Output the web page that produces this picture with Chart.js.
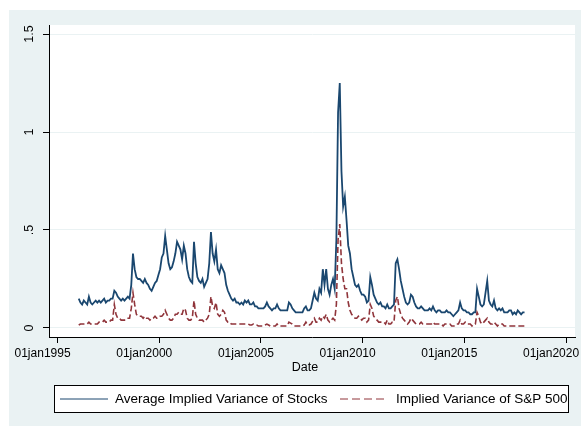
<!DOCTYPE html>
<html lang="en">
<head>
  <meta charset="UTF-8">
  <title>Implied Variance</title>
  <script src="https://cdn.jsdelivr.net/npm/chart.js"></script>
  <style>
    html, body {
      margin: 0;
      padding: 0;
      background: #fff;
    }
    canvas {
      display: block;
    }
  </style>
</head>
<body>
  <canvas id="chart" width="581" height="426"></canvas>

  <script>
    // monthly values, first point = Jan 1996
    const startYear = 1996;

    const stocks = [
      0.15, 0.13, 0.12, 0.14, 0.13, 0.12, 0.16, 0.13, 0.12, 0.13, 0.14, 0.13, // 1996
      0.14, 0.13, 0.14, 0.15, 0.13, 0.14, 0.14, 0.15, 0.15, 0.19, 0.18, 0.16, // 1997
      0.15, 0.14, 0.15, 0.14, 0.15, 0.16, 0.15, 0.22, 0.38, 0.30, 0.26, 0.25, // 1998
      0.25, 0.24, 0.23, 0.25, 0.23, 0.22, 0.20, 0.19, 0.21, 0.23, 0.24, 0.27, // 1999
      0.30, 0.36, 0.38, 0.47, 0.40, 0.33, 0.30, 0.31, 0.34, 0.38, 0.44, 0.42, // 2000
      0.40, 0.35, 0.42, 0.38, 0.30, 0.26, 0.24, 0.23, 0.44, 0.33, 0.26, 0.24, // 2001
      0.23, 0.25, 0.21, 0.23, 0.25, 0.33, 0.49, 0.38, 0.34, 0.40, 0.30, 0.28, // 2002
      0.32, 0.30, 0.28, 0.22, 0.19, 0.17, 0.15, 0.14, 0.15, 0.13, 0.13, 0.12, // 2003
      0.13, 0.12, 0.14, 0.13, 0.14, 0.12, 0.12, 0.13, 0.11, 0.11, 0.10, 0.10, // 2004
      0.10, 0.10, 0.11, 0.13, 0.11, 0.10, 0.09, 0.10, 0.10, 0.12, 0.10, 0.09, // 2005
      0.09, 0.09, 0.09, 0.09, 0.13, 0.12, 0.10, 0.09, 0.08, 0.08, 0.08, 0.08, // 2006
      0.08, 0.10, 0.11, 0.09, 0.09, 0.10, 0.14, 0.18, 0.15, 0.14, 0.20, 0.18, // 2007
      0.30, 0.22, 0.30, 0.20, 0.17, 0.22, 0.25, 0.20, 0.45, 1.10, 1.25, 0.80, // 2008
      0.62, 0.67, 0.55, 0.42, 0.38, 0.30, 0.26, 0.22, 0.21, 0.22, 0.19, 0.17, // 2009
      0.17, 0.16, 0.13, 0.14, 0.26, 0.22, 0.17, 0.15, 0.13, 0.12, 0.13, 0.11, // 2010
      0.11, 0.10, 0.12, 0.10, 0.10, 0.11, 0.12, 0.33, 0.35, 0.30, 0.24, 0.20, // 2011
      0.16, 0.13, 0.12, 0.13, 0.17, 0.16, 0.13, 0.11, 0.10, 0.10, 0.11, 0.10, // 2012
      0.09, 0.09, 0.09, 0.10, 0.09, 0.11, 0.09, 0.08, 0.09, 0.09, 0.08, 0.08, // 2013
      0.08, 0.09, 0.08, 0.08, 0.07, 0.06, 0.07, 0.08, 0.09, 0.13, 0.10, 0.09, // 2014
      0.09, 0.08, 0.08, 0.07, 0.07, 0.08, 0.08, 0.20, 0.16, 0.12, 0.11, 0.12, // 2015
      0.18, 0.24, 0.14, 0.12, 0.11, 0.14, 0.10, 0.09, 0.10, 0.09, 0.10, 0.08, // 2016
      0.08, 0.08, 0.09, 0.09, 0.07, 0.08, 0.07, 0.09, 0.08, 0.07, 0.08, 0.08  // 2017
    ];

    const sp500 = [
      0.015, 0.02, 0.02, 0.02, 0.02, 0.02, 0.03, 0.02, 0.02, 0.02, 0.02, 0.02, // 1996
      0.03, 0.03, 0.03, 0.04, 0.03, 0.03, 0.03, 0.04, 0.04, 0.12, 0.07, 0.05, // 1997
      0.05, 0.04, 0.04, 0.04, 0.05, 0.05, 0.05, 0.10, 0.18, 0.12, 0.07, 0.06, // 1998
      0.06, 0.06, 0.05, 0.06, 0.05, 0.05, 0.04, 0.05, 0.05, 0.06, 0.05, 0.05, // 1999
      0.06, 0.06, 0.07, 0.09, 0.07, 0.05, 0.04, 0.04, 0.05, 0.07, 0.07, 0.08, // 2000
      0.07, 0.07, 0.10, 0.09, 0.05, 0.04, 0.04, 0.05, 0.14, 0.07, 0.05, 0.04, // 2001
      0.04, 0.04, 0.03, 0.04, 0.05, 0.07, 0.16, 0.11, 0.10, 0.13, 0.07, 0.06, // 2002
      0.07, 0.09, 0.08, 0.04, 0.03, 0.03, 0.02, 0.02, 0.02, 0.02, 0.02, 0.02, // 2003
      0.02, 0.02, 0.02, 0.02, 0.02, 0.015, 0.015, 0.02, 0.015, 0.015, 0.01, 0.01, // 2004
      0.01, 0.01, 0.015, 0.02, 0.015, 0.01, 0.01, 0.01, 0.01, 0.02, 0.01, 0.01, // 2005
      0.01, 0.01, 0.01, 0.01, 0.03, 0.025, 0.02, 0.01, 0.01, 0.01, 0.01, 0.01, // 2006
      0.01, 0.015, 0.03, 0.015, 0.015, 0.02, 0.035, 0.05, 0.03, 0.03, 0.05, 0.04, // 2007
      0.06, 0.05, 0.07, 0.04, 0.03, 0.04, 0.05, 0.04, 0.12, 0.45, 0.53, 0.33, // 2008
      0.25, 0.20, 0.20, 0.13, 0.09, 0.07, 0.06, 0.05, 0.05, 0.06, 0.05, 0.04, // 2009
      0.05, 0.05, 0.03, 0.04, 0.12, 0.10, 0.06, 0.05, 0.04, 0.03, 0.03, 0.03, // 2010
      0.03, 0.02, 0.04, 0.02, 0.02, 0.03, 0.03, 0.14, 0.16, 0.10, 0.07, 0.05, // 2011
      0.04, 0.03, 0.02, 0.03, 0.05, 0.04, 0.03, 0.02, 0.02, 0.02, 0.03, 0.02, // 2012
      0.02, 0.02, 0.02, 0.02, 0.02, 0.03, 0.02, 0.02, 0.02, 0.02, 0.02, 0.01, // 2013
      0.02, 0.02, 0.02, 0.02, 0.01, 0.01, 0.01, 0.02, 0.02, 0.04, 0.02, 0.02, // 2014
      0.03, 0.02, 0.02, 0.02, 0.01, 0.02, 0.02, 0.08, 0.06, 0.03, 0.02, 0.03, // 2015
      0.04, 0.05, 0.03, 0.02, 0.02, 0.03, 0.02, 0.01, 0.02, 0.02, 0.02, 0.01, // 2016
      0.01, 0.01, 0.01, 0.01, 0.01, 0.01, 0.01, 0.01, 0.01, 0.01, 0.01, 0.01  // 2017
    ];

    const xTicks = [1995, 2000, 2005, 2010, 2015, 2020];
    const yTicks = [0, 0.5, 1, 1.5];
    const yTickLabels = ['0', '.5', '1', '1.5'];
    const seriesNames = ['Average Implied Variance of Stocks', 'Implied Variance of S&P 500'];
    const xTitle = 'Date';

    const navy = '#1a476f';
    const maroon = '#90353b';
    const bgColor = '#eaf2f3';
    const font = '"Liberation Sans", Arial, sans-serif';

    const toPoints = arr => arr.map((v, i) => ({ x: startYear + (i + 0.5) / 12, y: v }));

    // stata style background, rotated y labels, axis title and boxed legend
    const stataLook = {
      id: 'stataLook',
      beforeDraw(chart) {
        const { ctx, chartArea: a } = chart;
        ctx.save();
        ctx.fillStyle = '#fff';
        ctx.fillRect(0, 0, chart.width, chart.height);
        ctx.fillStyle = bgColor;
        ctx.fillRect(9, 10, chart.width - 9, chart.height - 10);
        ctx.fillStyle = '#fff';
        ctx.fillRect(a.left, a.top, a.right - a.left, a.bottom - a.top);
        ctx.restore();
      },
      afterDraw(chart) {
        const { ctx } = chart;
        const ys = chart.scales.y;
        ctx.save();
        ctx.fillStyle = '#000';
        ctx.font = '12.5px ' + font;
        ctx.textAlign = 'center';
        ctx.textBaseline = 'middle';
        yTicks.forEach((v, i) => {
          ctx.save();
          ctx.translate(30, ys.getPixelForValue(v));
          ctx.rotate(-Math.PI / 2);
          ctx.fillText(yTickLabels[i], 0, 0);
          ctx.restore();
        });

        ctx.fillText(xTitle, 305, 368);

        // legend box
        const lx = 54.5, ly = 385.5, lw = 514, lh = 27;
        ctx.fillStyle = '#fff';
        ctx.fillRect(lx, ly, lw, lh);
        ctx.strokeStyle = '#000';
        ctx.lineWidth = 1;
        ctx.strokeRect(lx, ly, lw, lh);
        const my = ly + lh / 2;
        const slots = [[60, 115], [340, 396]];
        ctx.font = '13.5px ' + font;
        chart.data.datasets.forEach((ds, i) => {
          const [x0, tx] = slots[i];
          ctx.strokeStyle = ds.borderColor;
          ctx.lineWidth = 1;
          ctx.setLineDash(ds.borderDash ? [8, 4] : []);
          ctx.beginPath();
          ctx.moveTo(x0, my);
          ctx.lineTo(x0 + 48, my);
          ctx.stroke();
          ctx.setLineDash([]);
          ctx.fillStyle = '#000';
          ctx.textAlign = 'left';
          ctx.fillText(ds.label, tx, my);
        });
        ctx.restore();
      }
    };

    const ctx = document.getElementById('chart').getContext('2d');
    const chart = new Chart(ctx, {
      type: 'line',
      data: {
        datasets: [
          {
            label: seriesNames[0],
            data: toPoints(stocks),
            borderColor: navy,
            borderWidth: 1.8,
            pointRadius: 0,
            order: 1
          },
          {
            label: seriesNames[1],
            data: toPoints(sp500),
            borderColor: maroon,
            borderWidth: 1.6,
            borderDash: [6, 3],
            pointRadius: 0,
            order: 0
          }
        ]
      },
      options: {
        responsive: false,
        animation: false,
        layout: {
          autoPadding: false,
          padding: { left: 9, top: 25, right: 6, bottom: 50 }
        },
        plugins: {
          legend: { display: false },
          tooltip: { enabled: false }
        },
        scales: {
          x: {
            type: 'linear',
            min: 1994.58,
            max: 2020.44,
            afterBuildTicks: s => { s.ticks = xTicks.map(v => ({ value: v })); },
            afterFit: s => { s.height = 39; s.paddingLeft = 0; s.paddingRight = 0; },
            grid: {
              drawOnChartArea: false,
              drawTicks: true,
              tickLength: 6,
              tickColor: '#000'
            },
            border: { display: true, color: '#000', width: 1 },
            ticks: {
              maxRotation: 0,
              minRotation: 0,
              padding: 3,
              labelOffset: -15,
              color: '#000',
              font: { family: font, size: 12 },
              callback: v => '01jan' + v
            }
          },
          y: {
            min: -0.046,
            max: 1.546,
            afterBuildTicks: s => { s.ticks = yTicks.map(v => ({ value: v })); },
            afterFit: s => { s.width = 40; },
            grid: {
              color: bgColor,
              lineWidth: 1,
              drawTicks: true,
              tickLength: 6,
              tickColor: '#000'
            },
            border: { display: true, color: '#000', width: 1 },
            ticks: { display: false }
          }
        }
      },
      plugins: [stataLook]
    });
  </script>
</body>
</html>
